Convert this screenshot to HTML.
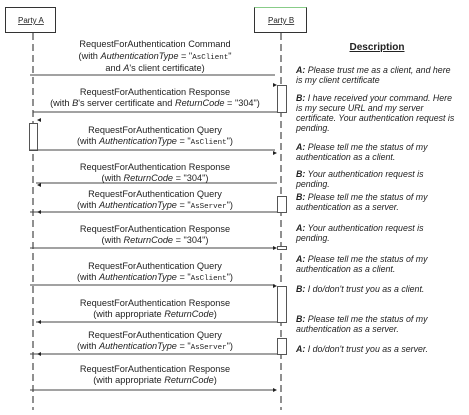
<!DOCTYPE html><html><head><style>body{margin:0;background:#fff}svg{display:block}text{font-family:"Liberation Sans",sans-serif;fill:#222}</style></head><body>
<svg width="469" height="415" xmlns="http://www.w3.org/2000/svg">
<rect x="5.5" y="7.5" width="50" height="25" fill="#fff" stroke="#333"/>
<rect x="254.5" y="7.5" width="52" height="25" fill="#fff" stroke="#333"/>
<path d="M254.5 7.5H306.5" stroke="#8c8"/>
<text x="18" y="23" font-size="8" text-decoration="underline">Party A</text>
<text x="268" y="23" font-size="8" text-decoration="underline">Party B</text>
<g stroke="#222" stroke-dasharray="7,4"><line x1="33" y1="33" x2="33" y2="410"/><line x1="281" y1="33" x2="281" y2="410"/></g>
<g fill="#fff" stroke="#555">
<rect x="277.5" y="85.5" width="9" height="27"/>
<rect x="29.5" y="123.5" width="8" height="27"/>
<rect x="277.5" y="196.5" width="9" height="16"/>
<rect x="277.5" y="246.5" width="9" height="3"/>
<rect x="277.5" y="286.5" width="9" height="36"/>
<rect x="277.5" y="338.5" width="9" height="16"/>
</g>
<g stroke="#444" fill="none">
<path d="M30 75H275"/><path d="M277 112H33"/><path d="M30 150H275"/><path d="M277 183H36"/>
<path d="M277 212H30"/><path d="M30 248H275"/><path d="M30 285H275"/><path d="M277 322H36"/>
<path d="M277 354H30"/><path d="M30 390H275"/>
</g>
<g fill="#222">
<path d="M277 85l-4-2v4z"/><path d="M37 120l4-2v4z"/><path d="M277 153l-4-2v4z"/><path d="M37 185l4-2v4z"/>
<path d="M37 212l4-2v4z"/><path d="M277 248l-4-2v4z"/><path d="M277 286l-4-2v4z"/><path d="M37 322l4-2v4z"/>
<path d="M37 354l4-2v4z"/><path d="M277 390l-4-2v4z"/>
</g>
<g font-size="9.2" text-anchor="middle">
<text x="155" y="47">RequestForAuthentication Command</text>
<text x="155" y="59">(with <tspan font-style="italic">AuthenticationType</tspan> = "<tspan font-family="Liberation Mono" font-size="7.5">AsClient</tspan>"</text>
<text x="155" y="71">and <tspan font-style="italic">A</tspan>'s client certificate)</text>
<text x="155" y="95">RequestForAuthentication Response</text>
<text x="155" y="106">(with <tspan font-style="italic">B</tspan>'s server certificate and <tspan font-style="italic">ReturnCode</tspan> = "304")</text>
<text x="155" y="133">RequestForAuthentication Query</text>
<text x="155" y="144">(with <tspan font-style="italic">AuthenticationType</tspan> = "<tspan font-family="Liberation Mono" font-size="7.5">AsClient</tspan>")</text>
<text x="155" y="170">RequestForAuthentication Response</text>
<text x="155" y="181">(with <tspan font-style="italic">ReturnCode</tspan> = "304")</text>
<text x="155" y="197">RequestForAuthentication Query</text>
<text x="155" y="208">(with <tspan font-style="italic">AuthenticationType</tspan> = "<tspan font-family="Liberation Mono" font-size="7.5">AsServer</tspan>")</text>
<text x="155" y="232">RequestForAuthentication Response</text>
<text x="155" y="243">(with <tspan font-style="italic">ReturnCode</tspan> = "304")</text>
<text x="155" y="269">RequestForAuthentication Query</text>
<text x="155" y="280">(with <tspan font-style="italic">AuthenticationType</tspan> = "<tspan font-family="Liberation Mono" font-size="7.5">AsClient</tspan>")</text>
<text x="155" y="306">RequestForAuthentication Response</text>
<text x="155" y="317">(with appropriate <tspan font-style="italic">ReturnCode</tspan>)</text>
<text x="155" y="338">RequestForAuthentication Query</text>
<text x="155" y="349">(with <tspan font-style="italic">AuthenticationType</tspan> = "<tspan font-family="Liberation Mono" font-size="7.5">AsServer</tspan>")</text>
<text x="155" y="372">RequestForAuthentication Response</text>
<text x="155" y="383">(with appropriate <tspan font-style="italic">ReturnCode</tspan>)</text>
</g>
<text x="377" y="50" font-size="10" font-weight="bold" text-anchor="middle" text-decoration="underline">Description</text>
<g font-size="8.8" font-style="italic">
<text x="296" y="73"><tspan font-weight="bold">A:</tspan> Please trust me as a client, and here</text>
<text x="296" y="83">is my client certificate</text>
<text x="296" y="101"><tspan font-weight="bold">B:</tspan> I have received your command. Here</text>
<text x="296" y="111">is my secure URL and my server</text>
<text x="296" y="121">certificate. Your authentication request is</text>
<text x="296" y="131">pending.</text>
<text x="296" y="150"><tspan font-weight="bold">A:</tspan> Please tell me the status of my</text>
<text x="296" y="160">authentication as a client.</text>
<text x="296" y="177"><tspan font-weight="bold">B:</tspan> Your authentication request is</text>
<text x="296" y="187">pending.</text>
<text x="296" y="200"><tspan font-weight="bold">B:</tspan> Please tell me the status of my</text>
<text x="296" y="210">authentication as a server.</text>
<text x="296" y="231"><tspan font-weight="bold">A:</tspan> Your authentication request is</text>
<text x="296" y="241">pending.</text>
<text x="296" y="262"><tspan font-weight="bold">A:</tspan> Please tell me the status of my</text>
<text x="296" y="272">authentication as a client.</text>
<text x="296" y="292"><tspan font-weight="bold">B:</tspan> I do/don't trust you as a client.</text>
<text x="296" y="322"><tspan font-weight="bold">B:</tspan> Please tell me the status of my</text>
<text x="296" y="332">authentication as a server.</text>
<text x="296" y="352"><tspan font-weight="bold">A:</tspan> I do/don't trust you as a server.</text>
</g>
</svg></body></html>
